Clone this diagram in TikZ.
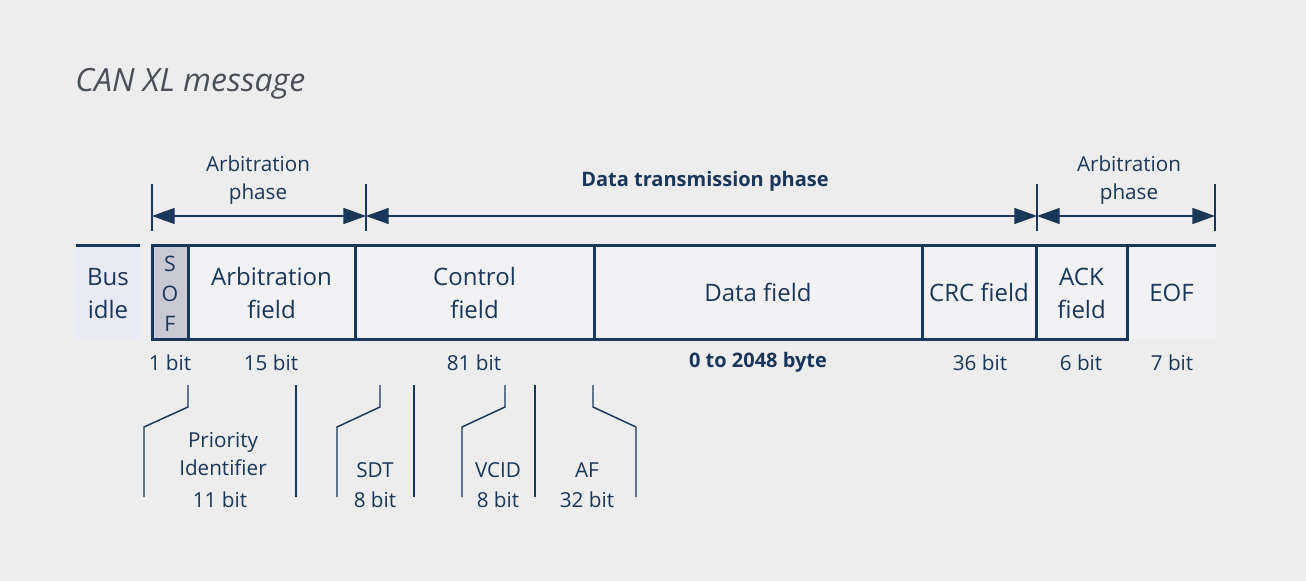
\documentclass[tikz,border=0pt]{standalone}
\usepackage{fontspec}
\setmainfont{Open Sans}
\usetikzlibrary{arrows.meta}
\definecolor{navy}{RGB}{26,54,88}
\definecolor{bg}{RGB}{237,237,237}
\definecolor{fieldfill}{RGB}{242,242,245}
\definecolor{busfill}{RGB}{232,234,246}
\definecolor{soffill}{RGB}{200,201,212}
\definecolor{titlegray}{RGB}{75,80,88}
\begin{document}
\begin{tikzpicture}[x=0.75pt,y=-0.75pt,
  field/.style={draw=navy,line width=2.25pt,fill=fieldfill,text=navy,
    font=\fontsize{18}{24.75}\selectfont,align=center,anchor=north west,
    inner sep=0pt,outer sep=0pt,minimum height=70.5pt},
  plainfield/.style={field,draw=none},
  lbl/.style={text=navy,font=\fontsize{15.5}{21.5}\selectfont,align=center,inner sep=0pt,yshift=-2pt},
  dim/.style={draw=navy,line width=1.1pt,
    {Triangle[length=17pt,width=12pt]}-{Triangle[length=17pt,width=12pt]}},
  tickline/.style={draw=navy,line width=0.9pt},
  brk/.style={draw=navy,line width=1.1pt},
  topline/.style={draw=navy,line width=2.25pt}]

\fill[bg] (0,0) rectangle (1306,581);
\useasboundingbox (0,0) rectangle (1306,581);

% title
\node[anchor=base west,inner sep=0pt,text=titlegray,
  font=\itshape\fontsize{24}{28}\selectfont] (title) at (75,92) {CAN XL message};

% frame
\node[plainfield,fill=busfill,minimum width=48pt] (bus) at (76,245) {\rule{0pt}{15pt}Bus\\idle};
\node[plainfield,minimum width=66.75pt] (eof) at (1127,245) {\rule{0pt}{15pt}EOF};
\draw[topline] (bus.north west) -- (bus.north east);
\draw[topline] (eof.north west) -- (eof.north east);
\node[field,fill=soffill,minimum width=27pt,font=\fontsize{16}{22.5}\selectfont] (sof) at (152,245) {\rule{0pt}{14pt}S\\O\\F};
\node[field,minimum width=125.25pt] (arb) at (188,245) {\rule{0pt}{15pt}Arbitration\\field};
\node[field,minimum width=179.25pt] (ctrl) at (355,245) {\rule{0pt}{15pt}Control\\field};
\node[field,minimum width=246pt] (data) at (594,245) {\rule{0pt}{15pt}Data field};
\node[field,minimum width=85.5pt] (crc) at (922,245) {\rule{0pt}{15pt}CRC field};
\node[field,minimum width=68.25pt] (ack) at (1036,245) {\rule{0pt}{15pt}ACK\\field};

% phase labels
\node[lbl] (ap1) at (258,177.5) {Arbitration\\phase};
\node[lbl,font=\bfseries\fontsize{15}{21.5}\selectfont] (dtp) at (705,179) {Data transmission phase};
\node[lbl] (ap2) at (1129,177.5) {Arbitration\\phase};

% dimension lines
\coordinate (d1) at (152,216);
\coordinate (d2) at (366,216);
\coordinate (d3) at (1037,216);
\coordinate (d4) at (1215,216);
\draw[tickline] (152,184) -- (152,231);
\draw[tickline] (366,184) -- (366,231);
\draw[tickline] (1037,184) -- (1037,231);
\draw[tickline] (1215,184) -- (1215,231);
\draw[dim] (d1) -- (d2);
\draw[dim] (d2) -- (d3);
\draw[dim] (d3) -- (d4);

% bit counts
\node[lbl] (b1) at (170,360) {1 bit};
\node[lbl] (b2) at (271,360) {15 bit};
\node[lbl] (b3) at (474,360) {81 bit};
\node[lbl,font=\bfseries\fontsize{15}{21.5}\selectfont] (b4) at (758,360) {0 to 2048 byte};
\node[lbl] (b5) at (980,360) {36 bit};
\node[lbl] (b6) at (1081,360) {6 bit};
\node[lbl] (b7) at (1172,360) {7 bit};

% sub-field brackets
\draw[brk] (188,385) -- (188,407) -- (144,427) -- (144,497);
\draw[brk] (296,385) -- (296,497);
\draw[brk] (380,385) -- (380,407) -- (337,427) -- (337,497);
\draw[brk] (414,385) -- (414,497);
\draw[brk] (505,385) -- (505,407) -- (462,427) -- (462,497);
\draw[brk] (535,385) -- (535,497);
\draw[brk] (593,385) -- (593,407) -- (636,427) -- (636,497);

\node[lbl,font=\fontsize{15.5}{21}\selectfont] (prio) at (223,451) {Priority\\Identifier};
\node[lbl] (prio b) at (220,497) {11 bit};
\node[lbl] (sdt) at (375,467) {SDT};
\node[lbl] (sdt b) at (375,497) {8 bit};
\node[lbl] (vcid) at (498,467) {VCID};
\node[lbl] (vcid b) at (498,497) {8 bit};
\node[lbl] (af) at (587,467) {AF};
\node[lbl] (af b) at (587,497) {32 bit};
\end{tikzpicture}
\end{document}
